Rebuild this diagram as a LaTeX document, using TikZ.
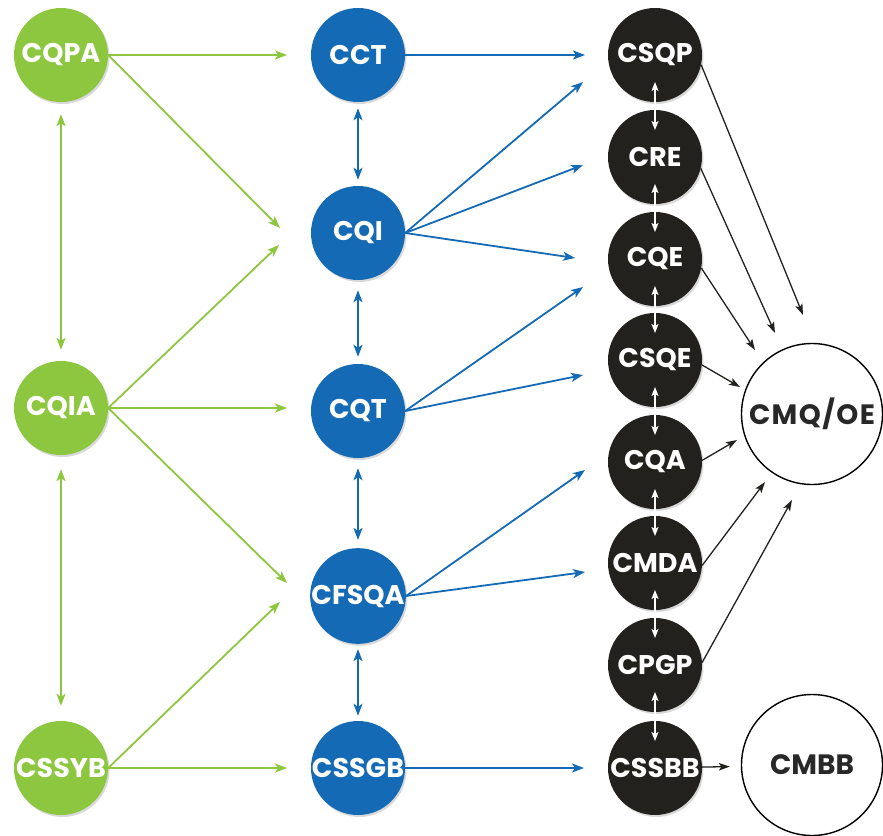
\documentclass[tikz,border=0pt]{standalone}
\usepackage{fontspec}
\setmainfont{Poppins}
\usetikzlibrary{arrows.meta,shadows}
\definecolor{gr}{RGB}{141,198,63}
\definecolor{bl}{RGB}{20,106,180}
\definecolor{bk}{RGB}{35,33,30}
\definecolor{tx}{RGB}{40,40,40}
\begin{document}
\begin{tikzpicture}[x=1pt,y=-1pt,
  circ/.style={circle, minimum size=94pt, inner sep=0pt,
    font=\fontsize{27}{27}\selectfont\bfseries, text=white,
    drop shadow={opacity=0.3,shadow xshift=1.5pt,shadow yshift=-2pt}},
  gnode/.style={circ, fill=gr},
  bnode/.style={circ, fill=bl},
  knode/.style={circ, fill=bk},
  wnode/.style={circle, minimum size=141pt, inner sep=0pt, draw=black,
    line width=1.4pt, fill=white, text=tx,
    font=\fontsize{28}{28}\selectfont\bfseries},
  garrow/.style={draw=gr, line width=1.8pt, -{Stealth[length=12pt,width=9pt,inset=3pt]}},
  gdarrow/.style={draw=gr, line width=1.8pt, {Stealth[length=12pt,width=9pt,inset=3pt]}-{Stealth[length=12pt,width=9pt,inset=3pt]}},
  barrow/.style={draw=bl, line width=1.8pt, -{Stealth[length=12pt,width=9pt,inset=3pt]}},
  bdarrow/.style={draw=bl, line width=1.8pt, {Stealth[length=12pt,width=9pt,inset=3pt]}-{Stealth[length=12pt,width=9pt,inset=3pt]}},
  karrow/.style={draw=bk, line width=1.3pt, -{Stealth[length=11pt,width=7.5pt,inset=2.5pt]}},
  wdarrow/.style={draw=white, line width=1.4pt, {Stealth[length=9pt,width=7pt,inset=2pt]}-{Stealth[length=9pt,width=7pt,inset=2pt]}}
]
\useasboundingbox (0,0) rectangle (883,835);

% green column
\node[gnode] (cqpa) at (61,55) {CQPA};
\node[gnode] (cqia) at (61,408) {CQIA};
\node[gnode] (cssyb) at (61,768) {CSSYB};
% blue column
\node[bnode] (cct) at (358,55) {CCT};
\node[bnode] (cqi) at (358,233) {CQI};
\node[bnode] (cqt) at (358,411) {CQT};
\node[bnode] (cfsqa) at (358,596) {CFSQA};
\node[bnode] (cssgb) at (358,768) {CSSGB};
% black column
\node[knode] (csqp) at (655,55) {CSQP};
\node[knode] (cre) at (655,157) {CRE};
\node[knode] (cqe) at (655,259) {CQE};
\node[knode] (csqe) at (655,360) {CSQE};
\node[knode] (cqa) at (655,462) {CQA};
\node[knode] (cmda) at (655,563) {CMDA};
\node[knode] (cpgp) at (655,665) {CPGP};
\node[knode] (cssbb) at (655,768) {CSSBB};
% white
\node[wnode] (cmqoe) at (812,414) {\addfontfeature{LetterSpace=5}CMQ/OE};
\node[wnode] (cmbb) at (812,765) {CMBB};

% arrow tips
\coordinate (g1) at (287,55);
\coordinate (g2) at (280,228);
\coordinate (g3) at (279,245);
\coordinate (g4) at (287,408);
\coordinate (g5) at (287,583);
\coordinate (g6) at (280,602);
\coordinate (g7) at (287,768);
\coordinate (b1) at (585,55);
\coordinate (b2) at (583,82);
\coordinate (b3) at (583,165);
\coordinate (b4) at (575,258);
\coordinate (b5) at (583,287);
\coordinate (b6) at (583,375);
\coordinate (b7) at (585,470);
\coordinate (b8) at (585,572);
\coordinate (b9) at (584,768);
\coordinate (k1) at (803,315);
\coordinate (k2) at (775,333);
\coordinate (k3) at (755,350);
\coordinate (k4) at (740,387);
\coordinate (k5) at (737,440);
\coordinate (k6) at (765,482);
\coordinate (k7) at (792,500);

% green arrows
\draw[garrow] (cqpa.east) -- (g1);
\draw[garrow] (cqpa.east) -- (g2);
\draw[garrow] (cqia.east) -- (g3);
\draw[garrow] (cqia.east) -- (g4);
\draw[garrow] (cqia.east) -- (g5);
\draw[garrow] (cssyb.east) -- (g6);
\draw[garrow] (cssyb.east) -- (g7);
\draw[gdarrow, shorten <=12pt, shorten >=11pt] (cqpa) -- (cqia);
\draw[gdarrow, shorten <=14pt, shorten >=15pt] (cqia) -- (cssyb);

% blue arrows
\draw[barrow] (cct.east) -- (b1);
\draw[barrow] (cqi.east) -- (b2);
\draw[barrow] (cqi.east) -- (b3);
\draw[barrow] (cqi.east) -- (b4);
\draw[barrow] (cqt.east) -- (b5);
\draw[barrow] (cqt.east) -- (b6);
\draw[barrow] (cfsqa.east) -- (b7);
\draw[barrow] (cfsqa.east) -- (b8);
\draw[barrow] (cssgb.east) -- (b9);
\draw[bdarrow, shorten <=6pt, shorten >=6pt] (cct) -- (cqi);
\draw[bdarrow, shorten <=10pt, shorten >=7pt] (cqi) -- (cqt);
\draw[bdarrow, shorten <=10pt, shorten >=8pt] (cqt) -- (cfsqa);
\draw[bdarrow, shorten <=5pt, shorten >=5pt] (cfsqa) -- (cssgb);

% white double arrows
\foreach \a/\b in {csqp/cre,cre/cqe,cqe/csqe,csqe/cqa,cqa/cmda,cmda/cpgp,cpgp/cssbb}
  \draw[wdarrow, shorten <=27pt, shorten >=27pt] (\a.center) -- (\b.center);

% black arrows
\draw[karrow] (csqp.-12) -- (k1);
\draw[karrow] (cre.-14) -- (k2);
\draw[karrow] (cqe.-11) -- (k3);
\draw[karrow] (csqe.-6) -- (k4);
\draw[karrow] (cqa.2) -- (k5);
\draw[karrow] (cmda.-3) -- (k6);
\draw[karrow] (cpgp.3) -- (k7);
\draw[karrow, shorten >=11pt] (cssbb) -- (cmbb);
\end{tikzpicture}
\end{document}
